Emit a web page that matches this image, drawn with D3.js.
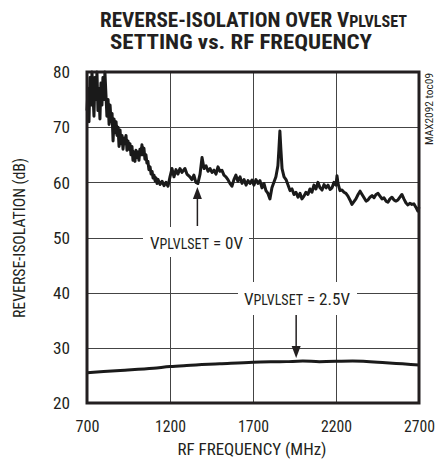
<!DOCTYPE html>
<html><head><meta charset="utf-8">
<script src="https://cdn.jsdelivr.net/npm/d3@7"></script>
<style>
html,body{margin:0;padding:0;background:#fff;}
svg{display:block;}
text{font-family:"Liberation Sans Narrow","Arial Narrow","Roboto Condensed","Liberation Sans",sans-serif;fill:#231f20;}
</style></head>
<body>
<svg id="chart" width="448" height="464"></svg>
<script>
// ---- data ----
const xTicks = [700, 1200, 1700, 2200, 2700];
const yTicks = [20, 30, 40, 50, 60, 70, 80];

const freq0V = [700,706,712,718,724,730,736,742,748,754,760,766,772,778,784,790,796,802,808,814,820,827,833,839,845,851,857,863,869,875,881,887,893,899,905,911,917,923,929,935,941,947,953,959,965,971,977,983,989,995,1001,1007,1013,1019,1025,1031,1037,1043,1049,1055,1061,1067,1073,1080,1086,1092,1098,1104,1110,1116,1122,1128,1140,1152,1164,1176,1188,1200,1212,1224,1236,1248,1260,1272,1290,1302,1320,1332,1344,1356,1368,1381,1393,1405,1417,1429,1441,1453,1465,1477,1489,1501,1513,1525,1537,1549,1561,1573,1585,1597,1609,1622,1634,1646,1658,1670,1682,1694,1706,1718,1730,1742,1754,1766,1778,1790,1802,1814,1826,1838,1850,1856,1862,1868,1875,1887,1899,1911,1923,1935,1947,1959,1971,1983,1995,2007,2019,2031,2043,2055,2067,2079,2091,2104,2116,2128,2140,2152,2164,2176,2188,2200,2206,2212,2224,2236,2248,2260,2272,2284,2296,2308,2320,2333,2345,2357,2369,2381,2393,2405,2417,2429,2441,2453,2465,2477,2489,2501,2513,2525,2537,2549,2561,2573,2585,2597,2609,2621,2633,2645,2657,2669,2681,2693,2700];
const iso0V = [73,77,71,79,74,80,76,72,79,75,80,73,77,71.5,78,74,79,75,80,76,72,75,70.5,74,71,72.5,67.5,71.5,69,71,68.5,70,66.5,69.5,67,68.5,66,68,67,68.5,65.8,67.5,66,67,65,66.5,64,65.5,63.8,65.8,64.5,65.5,64,66,65,66.8,65,66.2,64.2,65,63.5,63.8,62.3,62.8,61.5,62,60.8,61.3,60.3,60.8,59.8,60.5,59.6,60.2,59.4,60,59.3,61,62.5,61,62.3,61.5,62.5,61.8,62.5,61.5,61,60.5,61.3,60,59.8,61.5,64.5,62.5,63,62,62.5,61.8,62.2,61.5,62.8,62,62.2,61.3,61,60.5,59.8,59.3,60.5,61.3,60.2,61,59.8,60.5,59.5,60.3,59.8,60.4,59.5,60.5,59.8,60.3,59,59.8,58.5,58,57,59,60,61,63,66,69.3,66,62.5,61,60.5,59.5,58.5,58.8,57.8,58.2,57.3,58,57,57.5,58.2,57.8,58.8,58.2,59.5,58.8,60,59,58.6,59.6,59,59.5,58.7,59,60,59.5,61.2,59.8,58.5,58.6,58.2,58,57.5,56.8,56,56.5,57,57.8,58.4,57.8,57.2,56.6,56.8,57.3,57.6,57.2,57.8,58,57.5,57,57.2,56.6,56.4,57,57.3,56.8,56.6,56.8,57.3,57.8,57,56.3,55.9,56.2,56,56.1,55.5,54.8,55.5];

const freq25V = [700,900,1100,1200,1300,1500,1700,1900,2000,2100,2300,2500,2600,2700];
const iso25V = [25.5,25.9,26.3,26.6,26.8,27.1,27.4,27.5,27.6,27.5,27.6,27.3,27.1,26.9];

// ---- layout ----
const L = 87, R = 419, T = 72, B = 403;
const svg = d3.select("#chart");
const x = d3.scaleLinear().domain([700, 2700]).range([L, R]);
const y = d3.scaleLinear().domain([20, 80]).range([B, T]);

// grid
const grid = svg.append("g").attr("stroke", "#444").attr("stroke-width", 1);
grid.selectAll("line.v").data(xTicks.slice(1, -1)).enter().append("line")
  .attr("x1", d => x(d) + 0.5).attr("x2", d => x(d) + 0.5).attr("y1", T).attr("y2", B);
grid.selectAll("line.h").data(yTicks.slice(1, -1)).enter().append("line")
  .attr("y1", d => Math.round(y(d)) + 0.5).attr("y2", d => Math.round(y(d)) + 0.5).attr("x1", L).attr("x2", R);

// axes (labels only)
const xAxis = d3.axisBottom(x).tickValues(xTicks).tickSize(0).tickPadding(0).tickFormat(d3.format("d"));
const gx = svg.append("g").attr("transform", `translate(0,${B})`).call(xAxis);
gx.select(".domain").remove();
gx.selectAll("text").attr("font-size", 16).attr("dy", 0).attr("y", 29)
  .attr("textLength", d => String(d).length === 3 ? 24 : 31).attr("lengthAdjust", "spacingAndGlyphs");

const yAxis = d3.axisLeft(y).tickValues(yTicks).tickSize(0).tickPadding(0);
const gy = svg.append("g").attr("transform", `translate(70,0)`).call(yAxis);
gy.select(".domain").remove();
gy.selectAll("text").attr("font-size", 16).attr("dy", "0.36em").attr("x", 0)
  .attr("textLength", 17).attr("lengthAdjust", "spacingAndGlyphs");
svg.selectAll(".tick text").attr("fill", "#231f20");
svg.selectAll("g").attr("font-family", null);

// annotation label backgrounds (break gridlines)
svg.append("rect").attr("x", 143).attr("y", 227).attr("width", 106).attr("height", 30).attr("fill", "#fff");
svg.append("rect").attr("x", 238).attr("y", 282).attr("width", 119).attr("height", 33).attr("fill", "#fff");

function label(xp, yp, rest) {
  const t = svg.append("text").attr("x", xp).attr("y", yp);
  t.append("tspan").attr("font-size", 17).text("V");
  t.append("tspan").attr("font-size", 14).text("PLVLSET");
  t.append("tspan").attr("font-size", 17).text(rest);
  return t;
}
label(150, 249, " = 0V").attr("textLength", 93).attr("lengthAdjust", "spacingAndGlyphs");
label(244, 305, " = 2.5V").attr("textLength", 106).attr("lengthAdjust", "spacingAndGlyphs");

// arrows
function arrow(xp, y0, y1) {
  const dir = Math.sign(y1 - y0);
  svg.append("line").attr("x1", xp).attr("x2", xp).attr("y1", y0).attr("y2", y1 - dir * 10)
    .attr("stroke", "#231f20").attr("stroke-width", 1.5);
  svg.append("path").attr("d", `M${xp - 4.5},${y1 - dir * 12} L${xp + 4.5},${y1 - dir * 12} L${xp},${y1} Z`)
    .attr("fill", "#231f20");
}
arrow(x(1365), 226, 187);
arrow(x(1960), 315, 358);

// curves
const line = d3.line().x(d => x(d[0])).y(d => y(d[1]));
svg.append("path").datum(freq0V.map((f, i) => [f, iso0V[i]]))
  .attr("d", line).attr("fill", "none").attr("stroke", "#1a1a1a").attr("stroke-width", 3).attr("stroke-linejoin", "round");
svg.append("path").datum(freq25V.map((f, i) => [f, iso25V[i]]))
  .attr("d", d3.line().curve(d3.curveMonotoneX).x(d => x(d[0])).y(d => y(d[1])))
  .attr("fill", "none").attr("stroke", "#1a1a1a").attr("stroke-width", 3);

// frame
svg.append("rect").attr("x", L).attr("y", T).attr("width", R - L).attr("height", B - T)
  .attr("fill", "none").attr("stroke", "#231f20").attr("stroke-width", 3);

// titles
const t1 = svg.append("text").attr("x", 100).attr("y", 27).attr("font-weight", "bold")
  .attr("textLength", 307).attr("lengthAdjust", "spacingAndGlyphs");
t1.append("tspan").attr("font-size", 21).text("REVERSE-ISOLATION OVER V");
t1.append("tspan").attr("font-size", 16).text("PLVLSET");
svg.append("text").attr("x", 110).attr("y", 49).attr("font-weight", "bold").attr("font-size", 21)
  .attr("textLength", 262).attr("lengthAdjust", "spacingAndGlyphs").text("SETTING vs. RF FREQUENCY");

// axis titles
svg.append("text").attr("x", 252).attr("y", 455).attr("text-anchor", "middle").attr("font-size", 17)
  .attr("textLength", 149).attr("lengthAdjust", "spacingAndGlyphs").text("RF FREQUENCY (MHz)");
svg.append("text").attr("transform", "translate(25,238) rotate(-90)").attr("text-anchor", "middle")
  .attr("font-size", 16).attr("textLength", 160).attr("lengthAdjust", "spacingAndGlyphs").text("REVERSE-ISOLATION (dB)");
svg.append("text").attr("transform", "translate(433,145) rotate(-90)").attr("font-size", 11)
  .attr("fill", "#555").attr("textLength", 72).attr("lengthAdjust", "spacingAndGlyphs").text("MAX2092 toc09");
</script>
</body></html>
